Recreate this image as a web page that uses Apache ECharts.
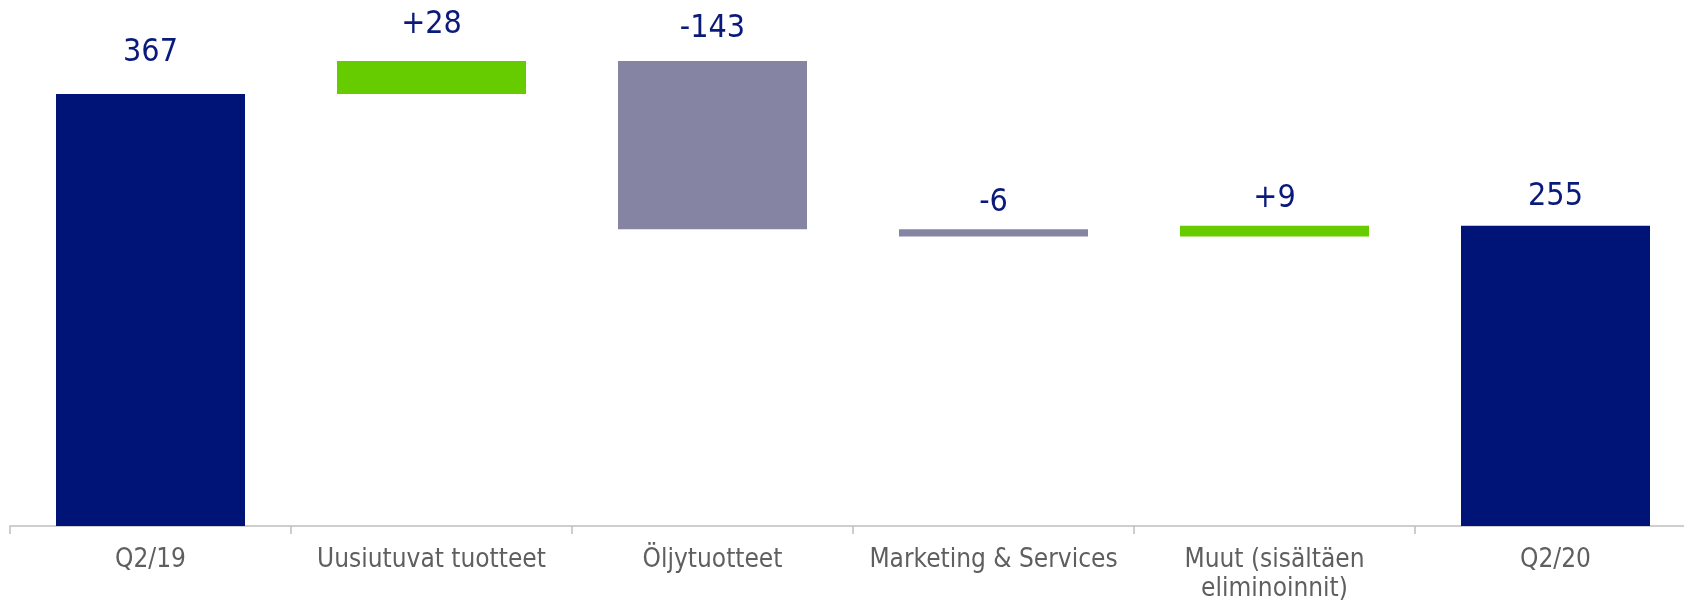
<!DOCTYPE html>
<html>
<head>
<meta charset="utf-8">
<script src="https://cdn.jsdelivr.net/npm/echarts@6/dist/echarts.min.js"></script>
<style>
    html, body { margin: 0; padding: 0; background: #ffffff; overflow: hidden; }
    #chart { width: 1700px; height: 604px; }
</style>
</head>
<body>
<div id="chart"></div>
<script>
// Bridge from Q2/19 to Q2/20 (MEUR)
var categories = ['Q2/19', 'Uusiutuvat tuotteet', 'Öljytuotteet', 'Marketing & Services', 'Muut (sisältäen\neliminoinnit)', 'Q2/20'];
var values = [367, 28, -143, -6, 9, 255];
var kinds = ['total', 'change', 'change', 'change', 'change', 'total'];

var NAVY = '#001478';
var GREEN = '#66cc00';
var GREY = '#8585a3';

// the slide's value labels do not sit at one fixed gap above the bars
var labelGap = [25, 20, 16, 11, 11, 13];

/**
 * Build the invisible base and the visible bar for each step of the waterfall.
 * @returns {object}
 */
function buildWaterfall() {
    var base = [];
    var bars = [];
    var level = 0;
    for (var i = 0; i < values.length; i++) {
        var v = values[i];
        var color, text;
        if (kinds[i] === 'total') {
            base.push(0);
            color = NAVY;
            text = String(v);
            level = v;
        } else if (v >= 0) {
            base.push(level);
            color = GREEN;
            text = '+' + v;
            level += v;
        } else {
            base.push(level + v);
            color = GREY;
            text = String(v);
            level += v;
        }
        bars.push({
            value: Math.abs(v),
            itemStyle: { color: color },
            label: { formatter: text, distance: labelGap[i] }
        });
    }
    return { base: base, bars: bars };
}

var wf = buildWaterfall();

// the plot runs a little past the right edge of the page, like the original slide
var options = {
    animation: false,
    grid: { left: 10, right: 4, top: 8, bottom: 76 },
    xAxis: {
        type: 'category',
        data: categories,
        axisLine: { lineStyle: { color: '#bfbfbf', width: 1.5 } },
        axisTick: { show: true, length: 8, lineStyle: { color: '#bfbfbf', width: 1.5 } },
        axisLabel: {
            interval: 0,
            margin: 20,
            color: '#5f5f5f',
            fontFamily: 'DejaVu Sans Condensed',
            fontSize: 26,
            lineHeight: 29
        }
    },
    yAxis: {
        type: 'value',
        min: 0,
        max: 440,
        show: false,
        splitLine: { show: false }
    },
    series: [
        {
            type: 'bar',
            stack: 'wf',
            barWidth: 189,
            silent: true,
            itemStyle: { color: 'transparent' },
            data: wf.base
        },
        {
            type: 'bar',
            stack: 'wf',
            barWidth: 189,
            label: {
                show: true,
                position: 'top',
                color: '#0a1a7a',
                fontFamily: 'DejaVu Sans Condensed',
                fontSize: 32
            },
            data: wf.bars
        }
    ]
};

var chart = echarts.init(document.getElementById('chart'));
chart.setOption(options);
</script>
</body>
</html>
